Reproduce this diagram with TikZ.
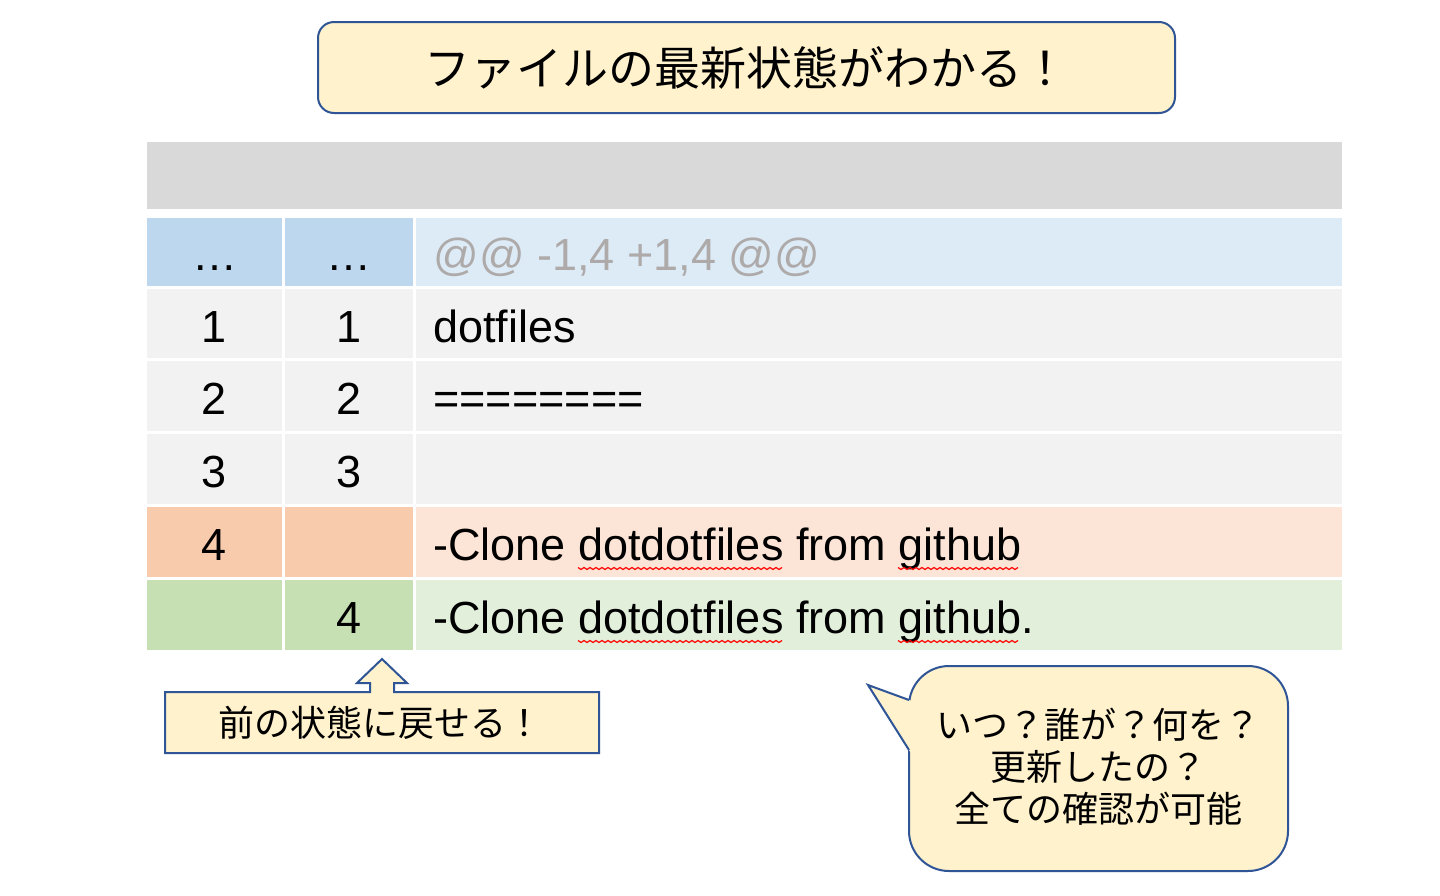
\documentclass[tikz,border=0pt]{standalone}
\usepackage{fontspec}
\setmainfont{Liberation Sans}
\newfontfamily\jp{Noto Sans CJK JP}
\definecolor{calfill}{HTML}{FFF2CC}
\definecolor{calline}{HTML}{2F5597}
\definecolor{hdr}{HTML}{D9D9D9}
\definecolor{blueA}{HTML}{BDD7EE}
\definecolor{blueB}{HTML}{DDEBF7}
\definecolor{grayrow}{HTML}{F2F2F2}
\definecolor{redA}{HTML}{F8CBAD}
\definecolor{redB}{HTML}{FCE4D6}
\definecolor{greenA}{HTML}{C6E0B4}
\definecolor{greenB}{HTML}{E2EFDA}
\definecolor{atgray}{HTML}{AEAAAA}
\definecolor{squigred}{HTML}{FF0000}
\newcommand\tfont{\fontsize{22.5}{27}\selectfont}
\tikzset{
  tt/.style={font=\tfont, inner sep=0pt, text=black},
  callshape/.style={draw=calline, fill=calfill, line width=1pt, line join=miter},
  squig/.style={draw=squigred, line width=0.6pt, line join=miter},
}
\begin{document}
\begin{tikzpicture}[x=0.5pt,y=-0.5pt]
\useasboundingbox (0,0) rectangle (1440,895);
\fill[white] (0,0) rectangle (1440,895);

% title callout
\node[callshape, rounded corners=8pt, minimum width=428.5pt, minimum height=45.5pt,
      font=\jp\fontsize{23}{27}\selectfont] (title) at (746.5,67.5) {ファイルの最新状態がわかる！};

% table
\fill[hdr] (147,142) rectangle (1342,209);
% row 1
\fill[blueA] (147,218) rectangle (282,286);
\fill[blueA] (285,218) rectangle (413,286);
\fill[blueB] (416,218) rectangle (1342,286);
% rows 2-4
\foreach \ya/\yb in {289/358, 361/431, 434/504}{
  \fill[grayrow] (147,\ya) rectangle (282,\yb);
  \fill[grayrow] (285,\ya) rectangle (413,\yb);
  \fill[grayrow] (416,\ya) rectangle (1342,\yb);
}
% row 5
\fill[redA] (147,507) rectangle (282,577);
\fill[redA] (285,507) rectangle (413,577);
\fill[redB] (416,507) rectangle (1342,577);
% row 6
\fill[greenA] (147,580) rectangle (282,650);
\fill[greenA] (285,580) rectangle (413,650);
\fill[greenB] (416,580) rectangle (1342,650);

% texts
\node[tt, anchor=base] (a1) at (214.5,270) {…};
\node[tt, anchor=base] (b1) at (349,270) {…};
\node[tt, anchor=base west, text=atgray] (c1) at (433,270) {@@ -1,4 +1,4 @@};
\node[tt, anchor=base] (a2) at (214.5,342) {1};
\node[tt, anchor=base] (b2) at (349,342) {1};
\node[tt, anchor=base west] (c2) at (433,342) {dotfiles};
\node[tt, anchor=base] (a3) at (214.5,414.5) {2};
\node[tt, anchor=base] (b3) at (349,414.5) {2};
\node[tt, anchor=base west] (c3) at (433,414.5) {========};
\node[tt, anchor=base] (a4) at (214.5,487.5) {3};
\node[tt, anchor=base] (b4) at (349,487.5) {3};
\node[tt, anchor=base] (a5) at (214.5,560.5) {4};
\node[tt, anchor=base west] (c5) at (433,560.5) {-Clone dotdotfiles from github};
\node[tt, anchor=base] (b6) at (349,633.5) {4};
\node[tt, anchor=base west] (c6) at (433,633.5) {-Clone dotdotfiles from github.};

% spell-check squiggles
\coordinate (s5a) at (578,567.5);
\coordinate (s5b) at (898,567.5);
\coordinate (s6a) at (578,640.5);
\coordinate (s6b) at (898,640.5);
\draw[squig] (s5a) \foreach \i in {1,...,34}{ -- ++(3,2) -- ++(3,-2) };
\draw[squig] (s5b) \foreach \i in {1,...,20}{ -- ++(3,2) -- ++(3,-2) };
\draw[squig] (s6a) \foreach \i in {1,...,34}{ -- ++(3,2) -- ++(3,-2) };
\draw[squig] (s6b) \foreach \i in {1,...,20}{ -- ++(3,2) -- ++(3,-2) };

% up-arrow callout
\draw[callshape] (165,692) -- (370,692) -- (370,683) -- (357,683) -- (382,659)
  -- (407,683) -- (394,683) -- (394,692) -- (599,692) -- (599,753) -- (165,753) -- cycle;
\node[font=\jp\fontsize{18}{22}\selectfont, inner sep=0pt] (back) at (380,722.5) {前の状態に戻せる！};

% speech bubble
\draw[callshape, rounded corners=20pt] (909,666) rectangle (1288,871);
\fill[calfill] (868,685) -- (913,701.5) -- (913,756.3) -- cycle;
\draw[calline, line width=1pt, line join=miter] (909,700) -- (868,685) -- (909,750);
\node[align=center, font=\jp\fontsize{18}{21}\selectfont, inner sep=0pt] (bub) at (1098,767)
  {いつ？誰が？何を？\\更新したの？\\全ての確認が可能};
\end{tikzpicture}
\end{document}
